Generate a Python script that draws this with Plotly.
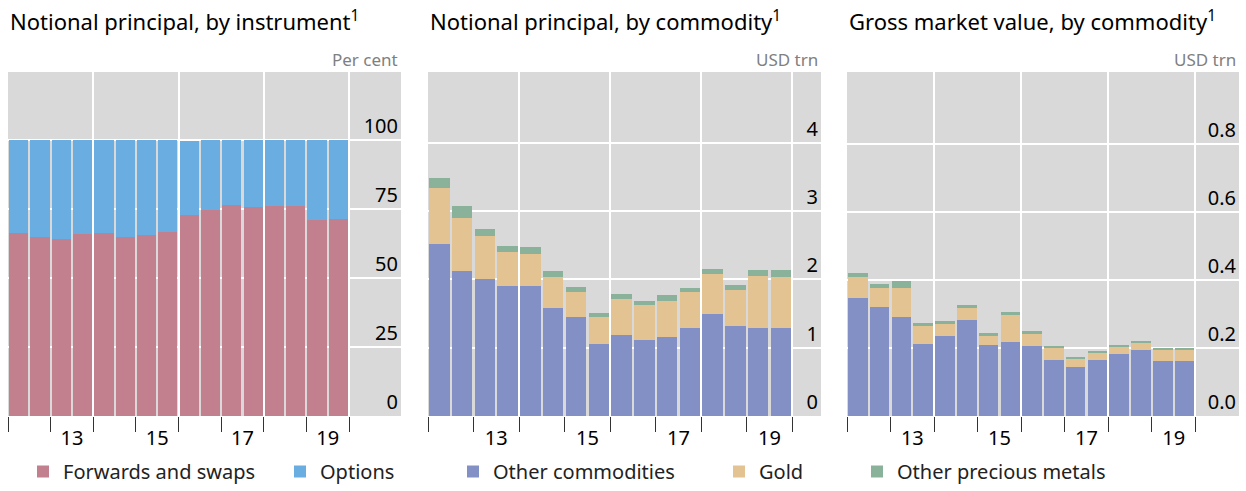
import plotly.graph_objects as go

# ---------------- data ----------------
periods = [f"{y}-H{h}" for y in range(2012, 2020) for h in (1, 2)]
x_pos = [int(p[:4]) + (0.25 if p.endswith("H1") else 0.75) for p in periods]

year_ticks = list(range(2012, 2021))
grid_years = [2014, 2016, 2018, 2020]
label_years = [2013, 2015, 2017, 2019]
label_text = ["13", "15", "17", "19"]

# Panel 1: notional principal by instrument (per cent)
fwd_swaps = [66.2, 64.7, 64.0, 65.9, 66.2, 64.7, 65.5, 66.7, 72.7, 74.6, 76.4, 75.6, 76.1, 76.1, 71.0, 71.3]
options = [33.8, 35.3, 36.0, 34.1, 33.8, 35.3, 34.5, 33.3, 26.8, 25.4, 23.6, 24.4, 23.9, 23.9, 29.0, 28.7]

# Panel 2: notional principal by commodity (USD trn)
other_n = [2.52, 2.12, 2.01, 1.90, 1.90, 1.58, 1.45, 1.05, 1.19, 1.11, 1.16, 1.29, 1.49, 1.32, 1.29, 1.29]
gold_n = [0.82, 0.78, 0.63, 0.51, 0.47, 0.455, 0.37, 0.395, 0.53, 0.51, 0.53, 0.53, 0.59, 0.53, 0.76, 0.75]
prec_n = [0.145, 0.175, 0.105, 0.075, 0.10, 0.09, 0.07, 0.06, 0.07, 0.06, 0.09, 0.06, 0.07, 0.07, 0.09, 0.10]

# Panel 3: gross market value by commodity (USD trn)
other_g = [0.347, 0.321, 0.291, 0.212, 0.235, 0.282, 0.209, 0.218, 0.206, 0.165, 0.144, 0.165, 0.182, 0.194, 0.162, 0.162]
gold_g = [0.062, 0.055, 0.085, 0.053, 0.035, 0.036, 0.026, 0.079, 0.035, 0.035, 0.024, 0.020, 0.021, 0.021, 0.032, 0.032]
prec_g = [0.011, 0.012, 0.021, 0.009, 0.009, 0.008, 0.009, 0.009, 0.009, 0.006, 0.006, 0.006, 0.006, 0.005, 0.006, 0.006]

titles = ["Notional principal, by instrument<sup>1</sup>",
          "Notional principal, by commodity<sup>1</sup>",
          "Gross market value, by commodity<sup>1</sup>"]
units = ["Per cent", "USD trn", "USD trn"]

# ---------------- style ----------------
W, H = 1246, 491
FONT = "Noto Sans"
C_FWD = "#C27F8E"
C_OPT = "#6AADE0"
C_OTH = "#8290C6"
C_GOLD = "#E2C391"
C_PREC = "#8AB29A"
BG = "#D9D9D9"


def px_x(sx):
    return min(max(sx / W, 0.0), 1.0)


def px_y(sy):
    return min(max(1 - sy / H, 0.0), 1.0)


px_domains = [(8, 401), (428, 821), (847, 1239)]   # pixels
x_ranges = [[2012, 2021.22], [2012, 2020.63], [2012, 2021.0]]
y_ranges = [[0, 124.6], [0, 5.04], [0, 1.012]]
y_ticks = [[0, 25, 50, 75, 100], [0, 1, 2, 3, 4], [0, 0.2, 0.4, 0.6, 0.8]]
y_fmt = [None, None, ".1f"]
y_dom = [px_y(416), px_y(72)]

fig = go.Figure()


def add_bar(name, y, color, i, legend, show=True):
    fig.add_trace(go.Bar(
        x=x_pos, y=y, name=name, marker=dict(color=color, line=dict(width=0)),
        xaxis="x" if i == 1 else f"x{i}", yaxis="y" if i == 1 else f"y{i}",
        legend=legend, showlegend=show))


add_bar("Forwards and swaps", fwd_swaps, C_FWD, 1, "legend")
add_bar("Options", options, C_OPT, 1, "legend")
add_bar("Other commodities", other_n, C_OTH, 2, "legend2")
add_bar("Gold", gold_n, C_GOLD, 2, "legend2")
add_bar("Other precious metals", prec_n, C_PREC, 2, "legend3")
add_bar("Other commodities", other_g, C_OTH, 3, "legend2", False)
add_bar("Gold", gold_g, C_GOLD, 3, "legend2", False)
add_bar("Other precious metals", prec_g, C_PREC, 3, "legend3", False)

# empty traces on the label overlay axes
for i in range(3):
    fig.add_trace(go.Scatter(x=[], y=[], xaxis=f"x{i+4}", yaxis="y" if i == 0 else f"y{i+1}",
                             showlegend=False, hoverinfo="skip"))

layout = dict(
    width=W, height=H, margin=dict(l=0, r=0, t=0, b=0),
    paper_bgcolor="white", plot_bgcolor=BG,
    barmode="stack", bargap=0.1,
    font=dict(family=FONT, size=19, color="black"),
    showlegend=True,
)

for i in range(3):
    n = "" if i == 0 else str(i + 1)
    d0, d1 = px_domains[i]
    layout[f"xaxis{n}"] = dict(
        domain=[px_x(d0), px_x(d1)], range=x_ranges[i], anchor=f"y{n}",
        tickmode="array", tickvals=grid_years, showticklabels=False,
        ticks="outside", ticklen=15, tickcolor="#333333", tickwidth=1,
        showgrid=True, gridcolor="white", gridwidth=1.5,
        minor=dict(tickmode="array", tickvals=year_ticks, ticks="outside", ticklen=15,
                   tickcolor="#333333", tickwidth=1, showgrid=False),
        zeroline=False, showline=False, fixedrange=True,
    )
    layout[f"xaxis{i+4}"] = dict(
        overlaying=f"x{n}", anchor=f"y{n}", range=x_ranges[i], side="bottom",
        tickmode="array", tickvals=[y + 0.5 for y in label_years], ticktext=label_text,
        ticks="outside", ticklen=4, tickcolor="rgba(0,0,0,0)",
        showgrid=False, zeroline=False, showline=False,
        tickfont=dict(size=20, color="black"),
    )
    layout[f"yaxis{n}"] = dict(
        domain=y_dom, range=y_ranges[i], anchor=f"x{n}", side="right",
        tickmode="array", tickvals=y_ticks[i], tickformat=y_fmt[i],
        ticklabelposition="inside top", ticks="",
        showgrid=True, gridcolor="white", gridwidth=1.5,
        zeroline=False, showline=False, tickfont=dict(size=20, color="black"),
    )

# legends kept fully inside the paper so they do not push the margins
legend_common = dict(orientation="h", yanchor="bottom", y=0, xanchor="left",
                     bgcolor="rgba(0,0,0,0)", font=dict(size=20, color="#222222"),
                     itemclick=False, tracegroupgap=0, traceorder="normal")
layout["legend"] = dict(legend_common, x=px_x(23), entrywidthmode="pixels", entrywidth=212)
layout["legend2"] = dict(legend_common, x=px_x(453), entrywidthmode="pixels", entrywidth=221)
layout["legend3"] = dict(legend_common, x=px_x(857))

annotations = []
for i in range(3):
    d0, d1 = px_domains[i]
    annotations.append(dict(text=titles[i], xref="paper", yref="paper", x=px_x(d0), y=px_y(20.5),
                            xanchor="left", yanchor="middle", showarrow=False,
                            font=dict(size=22, color="black", family=FONT)))
    annotations.append(dict(text=units[i], xref="paper", yref="paper", x=px_x(d1 - 1), y=px_y(60),
                            xanchor="right", yanchor="middle", showarrow=False,
                            font=dict(size=17, color="#808080", family=FONT)))
layout["annotations"] = annotations

fig.update_layout(**layout)
# let the 1246x491 figure fill the page exactly (no default body margin)
fig.write_html("out.html", config={"displayModeBar": False},
               post_script="document.body.style.margin='0';document.body.style.overflow='hidden';")
